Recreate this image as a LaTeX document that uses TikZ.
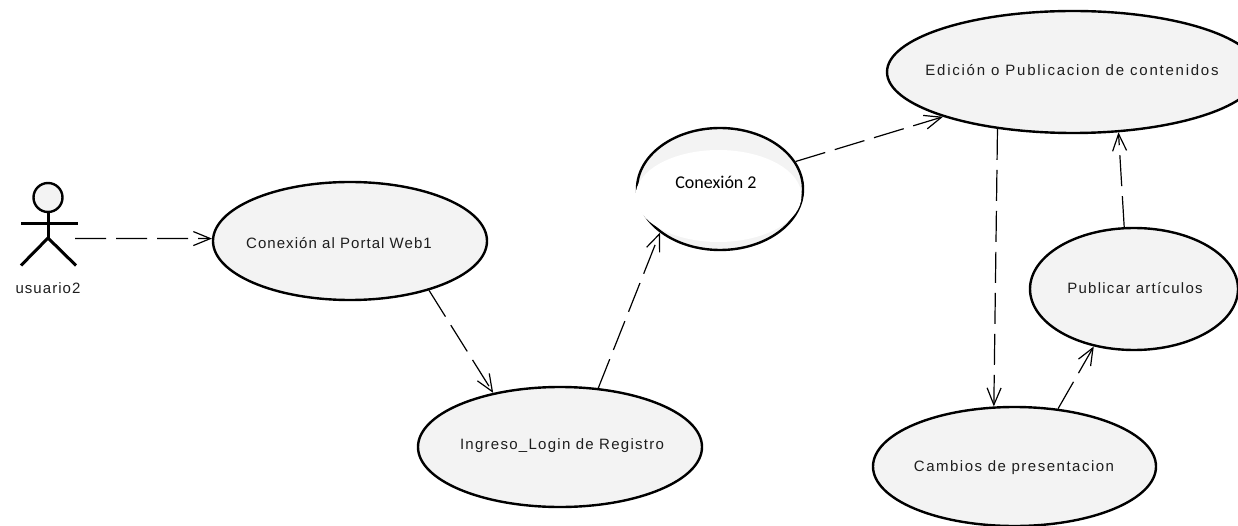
\documentclass[tikz,border=0pt]{standalone}
\usepackage{fontspec}
\usetikzlibrary{shapes.geometric,arrows.meta}
\setmainfont{Liberation Sans}[LetterSpace=8.5]
\newfontfamily\calibrifont{Carlito}
\definecolor{ucgray}{RGB}{243,243,243}
\definecolor{ucink}{RGB}{30,30,30}
\tikzset{
    usecase/.style={ellipse, draw=black, line width=2.4pt, fill=ucgray, inner sep=0pt},
    usetext/.style={inner sep=0pt, text=ucink, font=\fontsize{15}{17}\selectfont},
    dep/.style={line width=1.2pt, dash pattern=on 31pt off 10pt, -{Straight Barb[length=17pt,width=14pt]}},
    limb/.style={line width=3pt}
}

\begin{document}
\begin{tikzpicture}[x=1pt,y=-1pt]

    \clip (0,0) rectangle (1238,526);

    % actor
    \node [circle, draw=black, line width=2.4pt, fill=ucgray, minimum size=29pt, inner sep=0pt] (head) at (48,197.5) {};
    \coordinate (hip) at (48,238);
    \coordinate (usrhand) at (75,238.5);
    \draw [limb] (head) -- (hip);
    \draw [limb] (21,223.5) -- (78,223.5);
    \draw [limb] (hip) -- (21,265.5);
    \draw [limb] (hip) -- (76,265.5);
    \node [usetext] (usrtext) at (48,288.5) {\addfontfeature{LetterSpace=7}usuario2};

    % use cases
    \node [usecase, minimum width=274pt, minimum height=118pt] (portal) at (350,241) {};
    \node [usetext] (portaltext) at (339,243) {\addfontfeature{LetterSpace=7}Conexión al Portal Web1};

    \node [usecase, minimum width=284pt, minimum height=120pt] (ingreso) at (560,447) {};
    \node [usetext] (ingresotext) at (562,446) {Ingreso\_Login de Registro};

    \node [usecase, minimum width=166pt, minimum height=122pt] (conex) at (720,189) {};
    \node [ellipse, fill=white, minimum width=166pt, minimum height=92pt, inner sep=0pt] (conexshine) at (718.5,196) {};
    \node [usetext, font=\calibrifont\fontsize{18}{20}\selectfont, text=black] (conextext) at (716,182) {Conexión 2};

    \node [usecase, minimum width=372pt, minimum height=122pt] (edicion) at (1073,72) {};
    \node [usetext] (ediciontext) at (1072,70) {\addfontfeature{LetterSpace=11.8}Edición o Publicacion de contenidos};

    \node [usecase, minimum width=208pt, minimum height=122pt] (publicar) at (1134,289) {};
    \node [usetext] (publicartext) at (1135,288) {Publicar artículos};

    \node [usecase, minimum width=283pt, minimum height=119pt] (cambios) at (1014.5,466.5) {};
    \node [usetext] (cambiostext) at (1014,468) {\addfontfeature{LetterSpace=10}Cambios de presentacion};

    % connectors
    \draw [dep] (usrhand) -- (portal.179);
    \draw [dep] (portal.-32) -- (ingreso.141);
    \draw [dep] (ingreso.57) -- (conex.216.6);
    \draw [dep] (conex.20) -- (edicion.199.5);
    \draw [dep] (edicion.217.7) -- (cambios.109);
    \draw [dep] (cambios.53.4) -- (publicar.235.6);
    \draw [dep] (publicar.99.2) -- (edicion.-53);

\end{tikzpicture}
\end{document}
